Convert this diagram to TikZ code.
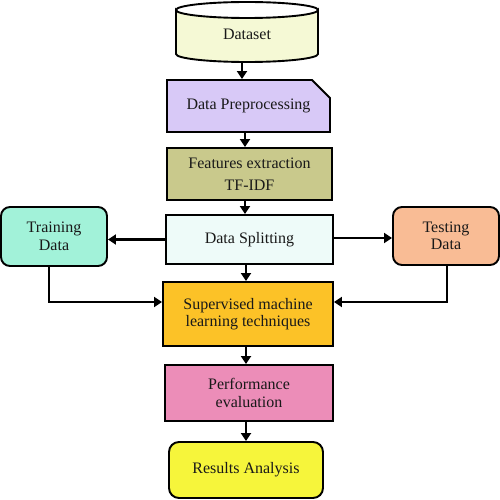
\documentclass[tikz,border=0pt]{standalone}
\usepackage{fontspec}
\setmainfont{Liberation Serif}
\usetikzlibrary{arrows.meta,shapes.misc,backgrounds}
\definecolor{cData}{HTML}{F5F9D5}
\definecolor{cPre}{HTML}{D8C9F7}
\definecolor{cFeat}{HTML}{C9C98C}
\definecolor{cSplit}{HTML}{EEFBF9}
\definecolor{cTrain}{HTML}{A2F2D9}
\definecolor{cTest}{HTML}{F9BC95}
\definecolor{cSup}{HTML}{FCC227}
\definecolor{cPerf}{HTML}{EC8DB8}
\definecolor{cRes}{HTML}{F6F53B}
\tikzset{
  box/.style={draw=black, line width=1.9pt, align=center, inner sep=2pt,
    font=\fontsize{16}{17.5}\selectfont, text=black!90},
  rbox/.style={box, rounded corners=9pt},
  arr/.style={line width=2.4pt, -{Triangle[length=8pt,width=10pt]}},
}
\begin{document}
\begin{tikzpicture}[x=1pt,y=-1pt]
\useasboundingbox (0,0) rectangle (500,500);
% Dataset cylinder
\filldraw[fill=cData, draw=black, line width=1.9pt]
  (176,10) -- (176,54) arc[start angle=180,end angle=360,x radius=71,y radius=-8]
  -- (318,10) arc[start angle=0,end angle=-180,x radius=71,y radius=-8] -- cycle;
\draw[line width=1.9pt] (176,10) arc[start angle=180,end angle=0,x radius=71,y radius=-8];
\node[font=\fontsize{16}{17.5}\selectfont, text=black!90, minimum width=142pt, minimum height=62pt, inner sep=0pt] (dataset) at (247,34) {Dataset};
\coordinate (dsb) at (242,62);

\node[box, chamfered rectangle, chamfered rectangle corners=north east,
  chamfered rectangle xsep=8pt, chamfered rectangle ysep=10pt,
  fill=cPre, minimum width=163pt, minimum height=52pt] (pre) at (248.5,106) {Data Preprocessing};
\node[box, fill=cFeat, minimum width=165pt, minimum height=52pt] (feat) at (249.5,174) {Features extraction\\[4pt]TF-IDF};
\node[box, fill=cSplit, minimum width=167pt, minimum height=49pt] (split) at (249.5,239.5) {Data Splitting};
\node[rbox, fill=cTrain, minimum width=106pt, minimum height=59pt] (train) at (54,236.5) {Training\\Data};
\node[rbox, fill=cTest, minimum width=106pt, minimum height=58pt] (test) at (446,236) {Testing\\Data};
\node[box, fill=cSup, minimum width=170pt, minimum height=64pt] (sup) at (248,314) {Supervised machine\\learning techniques};
\node[box, fill=cPerf, minimum width=168pt, minimum height=56pt] (perf) at (249,393) {Performance\\evaluation};
\node[rbox, fill=cRes, minimum width=154pt, minimum height=56pt, rounded corners=10pt] (res) at (246,470) {Results Analysis};

\draw[arr] (dsb) -- (dsb |- pre.north);
\draw[arr] ([xshift=-3.5pt]pre.south) -- ([xshift=-3.5pt]pre.south |- feat.north);
\draw[arr] ([xshift=-4.5pt]feat.south) -- ([xshift=-4.5pt]feat.south |- split.north);
\draw[arr] (split.west) -- (split.west -| train.east);
\draw[arr] ([yshift=1.5pt]split.east) -- ([yshift=1.5pt]split.east -| test.west);
\draw[arr] ([xshift=-3.5pt]split.south) -- ([xshift=-3.5pt]split.south |- sup.north);
\draw[arr] ([xshift=-5pt]train.south) |- ([yshift=12pt]sup.west);
\draw[arr] ([xshift=1pt]test.south) |- ([yshift=12pt]sup.east);
\draw[arr] ([xshift=-2pt]sup.south) -- ([xshift=-2pt]sup.south |- perf.north);
\draw[arr] ([xshift=-3pt]perf.south) -- ([xshift=-3pt]perf.south |- res.north);
\end{tikzpicture}
\end{document}
